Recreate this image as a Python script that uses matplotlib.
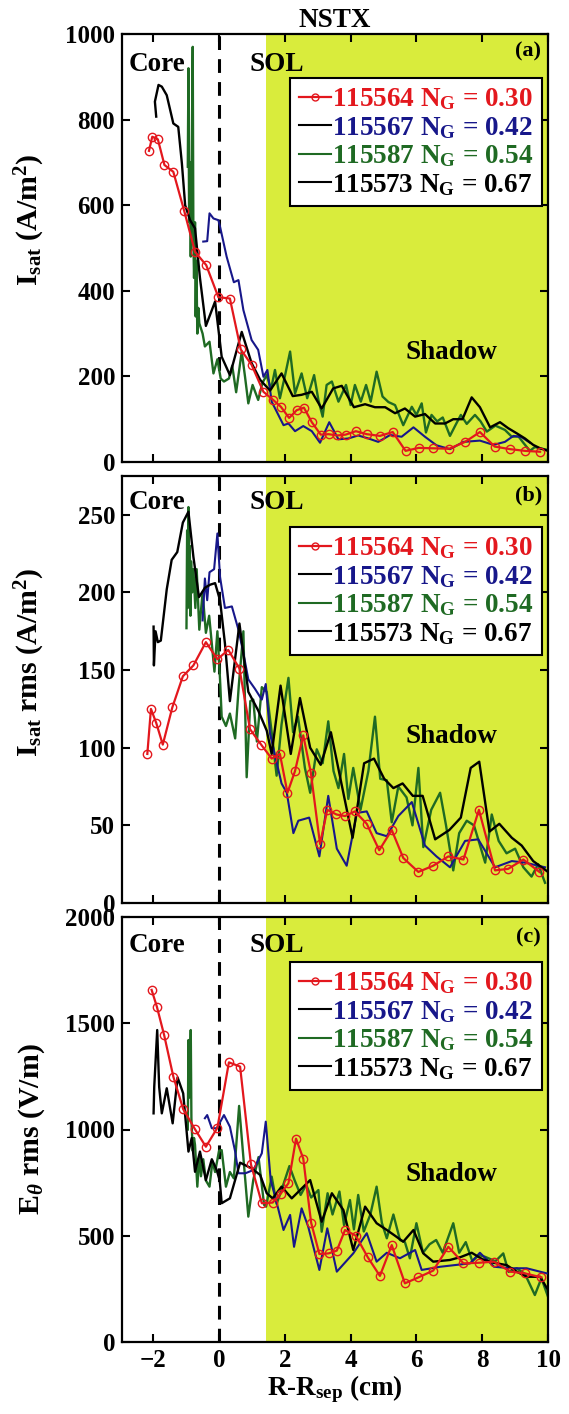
import matplotlib
matplotlib.use("Agg")
import matplotlib.pyplot as plt
from matplotlib.lines import Line2D

plt.rcParams['font.family'] = ['Liberation Serif', 'DejaVu Serif']
plt.rcParams['font.weight'] = 'bold'
plt.rcParams['mathtext.fontset'] = 'custom'
plt.rcParams['mathtext.rm'] = 'Liberation Serif:bold'
plt.rcParams['mathtext.it'] = 'Liberation Serif:bold:italic'
plt.rcParams['mathtext.bf'] = 'Liberation Serif:bold'

# ---------------- data ----------------
labels = ['115564 N$_{\\rm G}$ = 0.30', '115567 N$_{\\rm G}$ = 0.42',
          '115587 N$_{\\rm G}$ = 0.54', '115573 N$_{\\rm G}$ = 0.67']
panel_tags = ['(a)', '(b)', '(c)']
ylabels = ['I$_{\\rm sat}$ (A/m$^{\\rm 2}$)', 'I$_{\\rm sat}$ rms (A/m$^{\\rm 2}$)',
           'E$_{\\theta}$ rms (V/m)']
yticks_list = [[0, 200, 400, 600, 800, 1000], [0, 50, 100, 150, 200, 250],
               [0, 500, 1000, 1500, 2000]]
ylims = [1000, 275, 2000]
xticks = [-2, 0, 2, 4, 6, 8, 10]
shadow_start = 1.43

# Panel (a): Isat
a_red_x = [-2.13, -2.03, -1.86, -1.66, -1.39, -1.06, -0.73, -0.39, -0.02, 0.33, 0.66, 0.99, 1.35,
           1.63, 1.88, 2.13, 2.36, 2.58, 2.82, 3.09, 3.33, 3.6, 3.85, 4.16, 4.49, 4.89, 5.28,
           5.67, 6.07, 6.51, 7.0, 7.48, 7.93, 8.38, 8.85, 9.3, 9.76]
a_red_y = [727, 760, 754, 694, 678, 587, 491, 460, 385, 382, 263, 227, 164, 146, 129, 103, 121,
           127, 93, 64, 65, 62, 64, 72, 65, 61, 70, 26, 33, 32, 31, 47, 70, 36, 30, 26, 24]
a_blk_x = [-1.91, -1.95, -1.84, -1.74, -1.59, -1.39, -1.24, -1.13, -1.03, -0.88, -0.73, -0.58,
           -0.4, -0.12, 0.08, 0.33, 0.69, 0.99, 1.25, 1.55, 1.9, 2.24, 2.51, 2.82, 3.12, 3.47,
           3.73, 4.1, 4.44, 4.74, 5.05, 5.35, 5.65, 5.96, 6.26, 6.57, 6.87, 7.12, 7.4, 7.68,
           7.93, 8.24, 8.54, 8.79, 9.05, 9.3, 9.55, 9.76, 10.0]
a_blk_y = [807, 842, 881, 877, 857, 791, 783, 698, 600, 565, 546, 430, 318, 375, 246, 203, 304,
           231, 192, 167, 207, 154, 157, 164, 125, 172, 178, 128, 135, 128, 128, 114, 125, 106,
           112, 90, 90, 100, 100, 151, 128, 81, 93, 79, 67, 55, 40, 32, 26]
a_blue_x = [-0.48, -0.36, -0.29, -0.17, -0.02, 0.03, 0.23, 0.45, 0.59, 0.74, 0.99, 1.19, 1.35,
            1.47, 1.6, 1.96, 2.11, 2.31, 2.56, 2.82, 3.07, 3.35, 3.63, 3.93, 4.23, 4.54, 4.84,
            5.2, 5.55, 5.91, 6.26, 6.61, 7.02, 7.43, 7.93, 8.34, 8.69, 8.95, 9.2, 9.45]
a_blue_y = [515, 516, 581, 569, 565, 550, 480, 420, 425, 355, 285, 262, 199, 215, 141, 86, 90,
            72, 84, 72, 45, 93, 53, 55, 62, 55, 47, 63, 59, 81, 59, 39, 30, 47, 50, 40, 47, 61,
            58, 45]
a_grn_x = [-0.95, -0.93, -0.91, -0.88, -0.86, -0.83, -0.8, -0.78, -0.76, -0.73, -0.71, -0.69,
           -0.66, -0.63, -0.6, -0.5, -0.43, -0.29, -0.17, -0.05, 0.05, 0.15, 0.3, 0.4, 0.52,
           0.69, 0.79, 0.89, 1.02, 1.19, 1.32, 1.45, 1.58, 1.7, 1.85, 2.0, 2.16, 2.31, 2.51,
           2.68, 2.89, 3.02, 3.15, 3.27, 3.43, 3.63, 3.86, 4.0, 4.13, 4.31, 4.47, 4.61, 4.79,
           4.97, 5.15, 5.35, 5.6, 5.86, 6.0, 6.16, 6.29, 6.46, 6.63, 6.8, 7.02, 7.18, 7.35,
           7.53, 7.78, 7.95, 8.14, 8.4, 8.69, 8.9, 9.1, 9.25, 9.45, 9.6, 9.76, 10.0]
a_grn_y = [690, 920, 560, 700, 480, 720, 970, 520, 430, 560, 340, 470, 300, 360, 324, 300, 270,
           281, 207, 240, 195, 188, 195, 225, 163, 258, 199, 137, 180, 145, 185, 203, 170, 215,
           149, 200, 258, 160, 207, 149, 203, 145, 106, 180, 188, 141, 180, 133, 180, 141, 180,
           141, 211, 153, 140, 133, 86, 129, 110, 137, 69, 110, 95, 104, 61, 85, 110, 89, 110,
           95, 71, 85, 75, 59, 60, 45, 26, 35, 32, 28]

# Panel (b): Isat rms
b_red_x = [-2.18, -2.07, -1.91, -1.71, -1.42, -1.1, -0.78, -0.4, -0.05, 0.28, 0.62, 0.94, 1.28,
           1.6, 1.85, 2.08, 2.31, 2.56, 2.79, 3.07, 3.29, 3.57, 3.83, 4.13, 4.49, 4.87, 5.25,
           5.6, 6.06, 6.51, 6.97, 7.43, 7.9, 8.39, 8.79, 9.25, 9.74]
b_red_y = [96, 125, 116, 102, 126, 146, 153, 168, 157, 163, 151, 112, 102, 93, 96, 71, 85, 108,
           84, 38, 60, 57, 56, 59, 51, 34, 47, 29, 20, 24, 30, 28, 60, 21, 22, 28, 20]
b_blk_x = [-1.99, -1.98, -1.93, -1.86, -1.77, -1.59, -1.44, -1.27, -1.1, -0.93, -0.78, -0.61,
           -0.43, -0.27, -0.12, 0.03, 0.18, 0.33, 0.62, 0.89, 1.19, 1.45, 1.6, 1.87, 2.18, 2.46,
           2.77, 3.09, 3.4, 4.06, 4.41, 4.71, 5.02, 5.3, 5.58, 5.89, 6.19, 6.57, 7.0, 7.35,
           7.65, 7.91, 8.22, 8.52, 8.9, 9.2, 9.55, 10.0]
b_blk_y = [178, 153, 175, 168, 169, 202, 221, 226, 245, 252, 223, 197, 203, 205, 206, 195, 167,
           130, 180, 136, 124, 111, 96, 140, 96, 132, 100, 89, 110, 42, 90, 93, 80, 74, 77, 69,
           69, 41, 47, 55, 87, 91, 46, 51, 42, 37, 27, 20]
b_blue_x = [-0.5, -0.43, -0.36, -0.29, -0.15, -0.05, 0.03, 0.18, 0.39, 0.59, 0.74, 0.89, 1.09,
            1.3, 1.42, 1.55, 1.9, 2.06, 2.26, 2.41, 2.74, 3.05, 3.32, 3.58, 3.88, 4.19, 4.49,
            4.79, 5.1, 5.45, 5.86, 6.26, 6.61, 7.02, 7.48, 7.88, 8.39, 8.9, 9.3, 9.91]
b_blue_y = [182, 209, 195, 213, 215, 238, 210, 190, 191, 176, 161, 144, 138, 131, 141, 109, 77,
            71, 45, 53, 55, 30, 69, 35, 24, 58, 59, 45, 43, 56, 65, 37, 30, 23, 40, 41, 23, 27,
            26, 23]
b_grn_x = [-0.99, -0.97, -0.95, -0.93, -0.91, -0.89, -0.87, -0.85, -0.82, -0.78, -0.72, -0.68,
           -0.6, -0.5, -0.4, -0.3, -0.14, -0.05, 0.03, 0.08, 0.21, 0.33, 0.49, 0.6, 0.74, 0.84,
           0.95, 1.04, 1.15, 1.3, 1.45, 1.6, 1.75, 1.9, 2.11, 2.25, 2.4, 2.61, 2.77, 2.97, 3.15,
           3.32, 3.48, 3.63, 3.8, 3.93, 4.08, 4.3, 4.54, 4.74, 4.9, 5.1, 5.25, 5.45, 5.7, 5.88,
           6.06, 6.21, 6.45, 6.72, 6.9, 7.12, 7.3, 7.53, 7.75, 8.09, 8.29, 8.5, 8.74, 9.0, 9.25,
           9.5, 9.7, 9.91]
b_grn_y = [177, 240, 190, 255, 200, 230, 185, 220, 200, 215, 190, 215, 176, 200, 174, 185, 149,
           175, 144, 120, 114, 122, 106, 140, 175, 81, 130, 131, 104, 139, 136, 110, 82, 115,
           145, 110, 120, 87, 71, 99, 90, 117, 85, 74, 96, 67, 87, 60, 85, 120, 80, 79, 52, 75,
           68, 50, 87, 36, 60, 71, 50, 21, 45, 53, 50, 26, 57, 40, 32, 35, 23, 17, 25, 13]

# Panel (c): E_theta rms
c_red_x = [-2.05, -1.89, -1.67, -1.39, -1.09, -0.73, -0.4, -0.05, 0.3, 0.64, 0.97, 1.3, 1.63,
           1.87, 2.11, 2.34, 2.56, 2.8, 3.05, 3.33, 3.58, 3.83, 4.16, 4.52, 4.89, 5.25, 5.65,
           6.06, 6.51, 6.97, 7.43, 7.91, 8.36, 8.85, 9.3, 9.8]
c_red_y = [1657, 1578, 1445, 1249, 1096, 1001, 919, 1008, 1316, 1296, 836, 653, 656, 697, 747,
           957, 863, 561, 414, 417, 430, 527, 500, 399, 311, 456, 276, 304, 336, 448, 370, 373,
           378, 331, 323, 304]
c_blk_x = [-1.99, -1.97, -1.88, -1.82, -1.74, -1.59, -1.41, -1.26, -1.09, -0.93, -0.83, -0.73,
           -0.58, -0.4, -0.22, -0.07, 0.02, 0.08, 0.33, 0.64, 0.99, 1.25, 1.45, 1.63, 1.9, 2.21,
           2.77, 3.12, 3.43, 3.78, 4.08, 4.44, 4.79, 5.1, 5.35, 5.6, 5.91, 6.21, 6.51, 7.02,
           7.35, 7.68, 8.0, 8.34, 8.74, 9.05, 9.35, 9.76, 10.0]
c_blk_y = [1076, 1201, 1468, 1200, 1076, 1194, 1029, 1245, 1170, 896, 960, 801, 896, 762, 860,
           809, 760, 653, 676, 844, 817, 786, 700, 676, 731, 676, 762, 566, 700, 621, 433, 637,
           559, 527, 500, 472, 527, 417, 378, 386, 400, 420, 390, 373, 362, 331, 307, 307, 245]
c_blue_x = [-0.43, -0.36, -0.22, -0.07, 0.15, 0.33, 0.49, 0.59, 0.8, 1.04, 1.3, 1.42, 1.57,
            1.77, 1.96, 2.16, 2.28, 2.51, 2.71, 3.05, 3.29, 3.58, 4.08, 4.49, 4.79, 5.1, 5.5,
            5.96, 6.16, 6.72, 7.17, 7.63, 7.93, 8.36, 8.9, 9.35, 9.96]
c_blue_y = [1053, 1068, 1006, 1006, 1068, 1013, 896, 794, 794, 809, 888, 1037, 762, 645, 527,
            598, 448, 629, 543, 339, 535, 331, 417, 512, 378, 420, 394, 433, 339, 354, 362, 370,
            420, 354, 347, 347, 323]
c_grn_x = [-0.95, -0.93, -0.91, -0.88, -0.86, -0.84, -0.8, -0.76, -0.73, -0.66, -0.6, -0.55,
           -0.48, -0.4, -0.29, -0.2, -0.12, 0.0, 0.08, 0.21, 0.33, 0.45, 0.61, 0.75, 0.89, 1.04,
           1.2, 1.37, 1.43, 1.6, 1.75, 1.9, 2.14, 2.3, 2.48, 2.65, 2.8, 3.02, 3.12, 3.3, 3.45,
           3.66, 3.8, 3.98, 4.1, 4.23, 4.4, 4.6, 4.79, 4.95, 5.1, 5.3, 5.5, 5.65, 5.8, 6.0, 6.2,
           6.4, 6.6, 6.8, 7.12, 7.3, 7.5, 7.7, 7.9, 8.1, 8.4, 8.64, 8.8, 9.05, 9.3, 9.6, 9.8,
           10.0]
c_grn_y = [1000, 1421, 1150, 1300, 1468, 1050, 900, 960, 927, 731, 880, 780, 860, 760, 731, 850,
           800, 900, 903, 731, 800, 770, 1111, 850, 590, 762, 870, 645, 637, 778, 650, 715, 828,
           760, 692, 740, 680, 715, 519, 700, 600, 708, 550, 668, 530, 692, 520, 600, 731, 560,
           488, 600, 480, 470, 394, 559, 420, 460, 480, 420, 559, 420, 470, 380, 410, 400, 380,
           417, 330, 347, 320, 221, 300, 213]

panels = [
    dict(red=(a_red_x, a_red_y), blk=(a_blk_x, a_blk_y), blue=(a_blue_x, a_blue_y), grn=(a_grn_x, a_grn_y)),
    dict(red=(b_red_x, b_red_y), blk=(b_blk_x, b_blk_y), blue=(b_blue_x, b_blue_y), grn=(b_grn_x, b_grn_y)),
    dict(red=(c_red_x, c_red_y), blk=(c_blk_x, c_blk_y), blue=(c_blue_x, c_blue_y), grn=(c_grn_x, c_grn_y)),
]

# ---------------- styling ----------------
RED = '#e3171d'
BLUE = '#17178a'
GREEN = '#1f6a23'
BLACK = '#000000'
SHADE = '#d9ec3c'

W, H = 569, 1414
fig = plt.figure(figsize=(W / 100, H / 100), dpi=100)

# pixel boxes: (left, top, right, bottom)
boxes = [(122, 34, 548, 462), (122, 476, 548, 903), (122, 917, 548, 1342)]
legend_top_px = [44, 51, 45]
core_y = [0.928, 0.939, 0.934]
tag_y = [0.958, 0.955, 0.952]
shadow_y = [0.257, 0.389, 0.393]
ylab_y = [0.565, 0.565, 0.5]

FS_TICK = 18
FS_TXT = 19.5
FS_YLAB = 21.5
for i, (l, t, r, b) in enumerate(boxes):
    ax = fig.add_axes([l / W, 1 - b / H, (r - l) / W, (b - t) / H])
    ax.set_xlim(-2.95, 10)
    ax.set_ylim(0, ylims[i])
    ax.axvspan(shadow_start, 11, color=SHADE, lw=0, zorder=0)
    ax.axvline(0, color='k', ls=(0, (4.5, 3)), lw=2.2, zorder=1)
    d = panels[i]
    ax.plot(*d['grn'], color=GREEN, lw=1.7, zorder=2)
    ax.plot(*d['blue'], color=BLUE, lw=1.5, zorder=3)
    ax.plot(*d['blk'], color=BLACK, lw=1.7, zorder=4)
    ax.plot(*d['red'], color=RED, lw=1.6, marker='o', ms=6, mfc='none', mec=RED, mew=1.0, zorder=5)

    ax.set_xticks(xticks)
    ax.set_yticks(yticks_list[i])
    ax.tick_params(direction='in', length=6, width=1.5, top=True, right=True,
                   labelsize=FS_TICK, pad=5)
    for lab in ax.get_xticklabels() + ax.get_yticklabels():
        lab.set_fontweight('bold')
    if i < 2:
        ax.set_xticklabels([])
    else:
        ax.set_xticklabels([('\u2212%d' % -v) if v < 0 else str(v) for v in xticks])
        ax.set_xlabel('R-R$_{\\rm sep}$ (cm)', fontsize=FS_TXT, fontweight='bold', labelpad=1)
    for s in ax.spines.values():
        s.set_linewidth(1.6)

    ax.set_ylabel(ylabels[i], fontsize=FS_YLAB, fontweight='bold')
    ax.yaxis.set_label_coords(-0.175, ylab_y[i])

    ax.text(-1.88, ylims[i] * core_y[i], 'Core', ha='center', va='center', fontsize=FS_TXT, fontweight='bold')
    ax.text(1.76, ylims[i] * core_y[i], 'SOL', ha='center', va='center', fontsize=FS_TXT, fontweight='bold')
    ax.text(9.4, ylims[i] * tag_y[i], panel_tags[i], ha='center', va='center', fontsize=16, fontweight='bold')
    ax.text(7.05, ylims[i] * shadow_y[i], 'Shadow', ha='center', va='center', fontsize=FS_TXT, fontweight='bold')

    handles = [Line2D([], [], color=RED, lw=1.6, marker='o', ms=5, mfc='none', mec=RED),
               Line2D([], [], color=BLACK, lw=1.5),
               Line2D([], [], color=GREEN, lw=1.5),
               Line2D([], [], color=BLACK, lw=1.5)]
    leg = ax.legend(handles, labels, loc='upper right',
                    bbox_to_anchor=(1 - 6 / (r - l), 1 - legend_top_px[i] / (b - t)),
                    borderaxespad=0, fancybox=False, framealpha=1, edgecolor='k',
                    prop=dict(size=FS_TXT, weight='bold'), handlelength=1.2, handletextpad=0.05,
                    labelspacing=0.1, borderpad=0.3,
                    labelcolor=[RED, BLUE, GREEN, BLACK])
    leg.get_frame().set_linewidth(1.5)
    leg.set_zorder(10)
    if i == 0:
        ax.set_title('NSTX', fontsize=FS_TXT, fontweight='bold', pad=5)

fig.savefig('out.png', dpi=100)
